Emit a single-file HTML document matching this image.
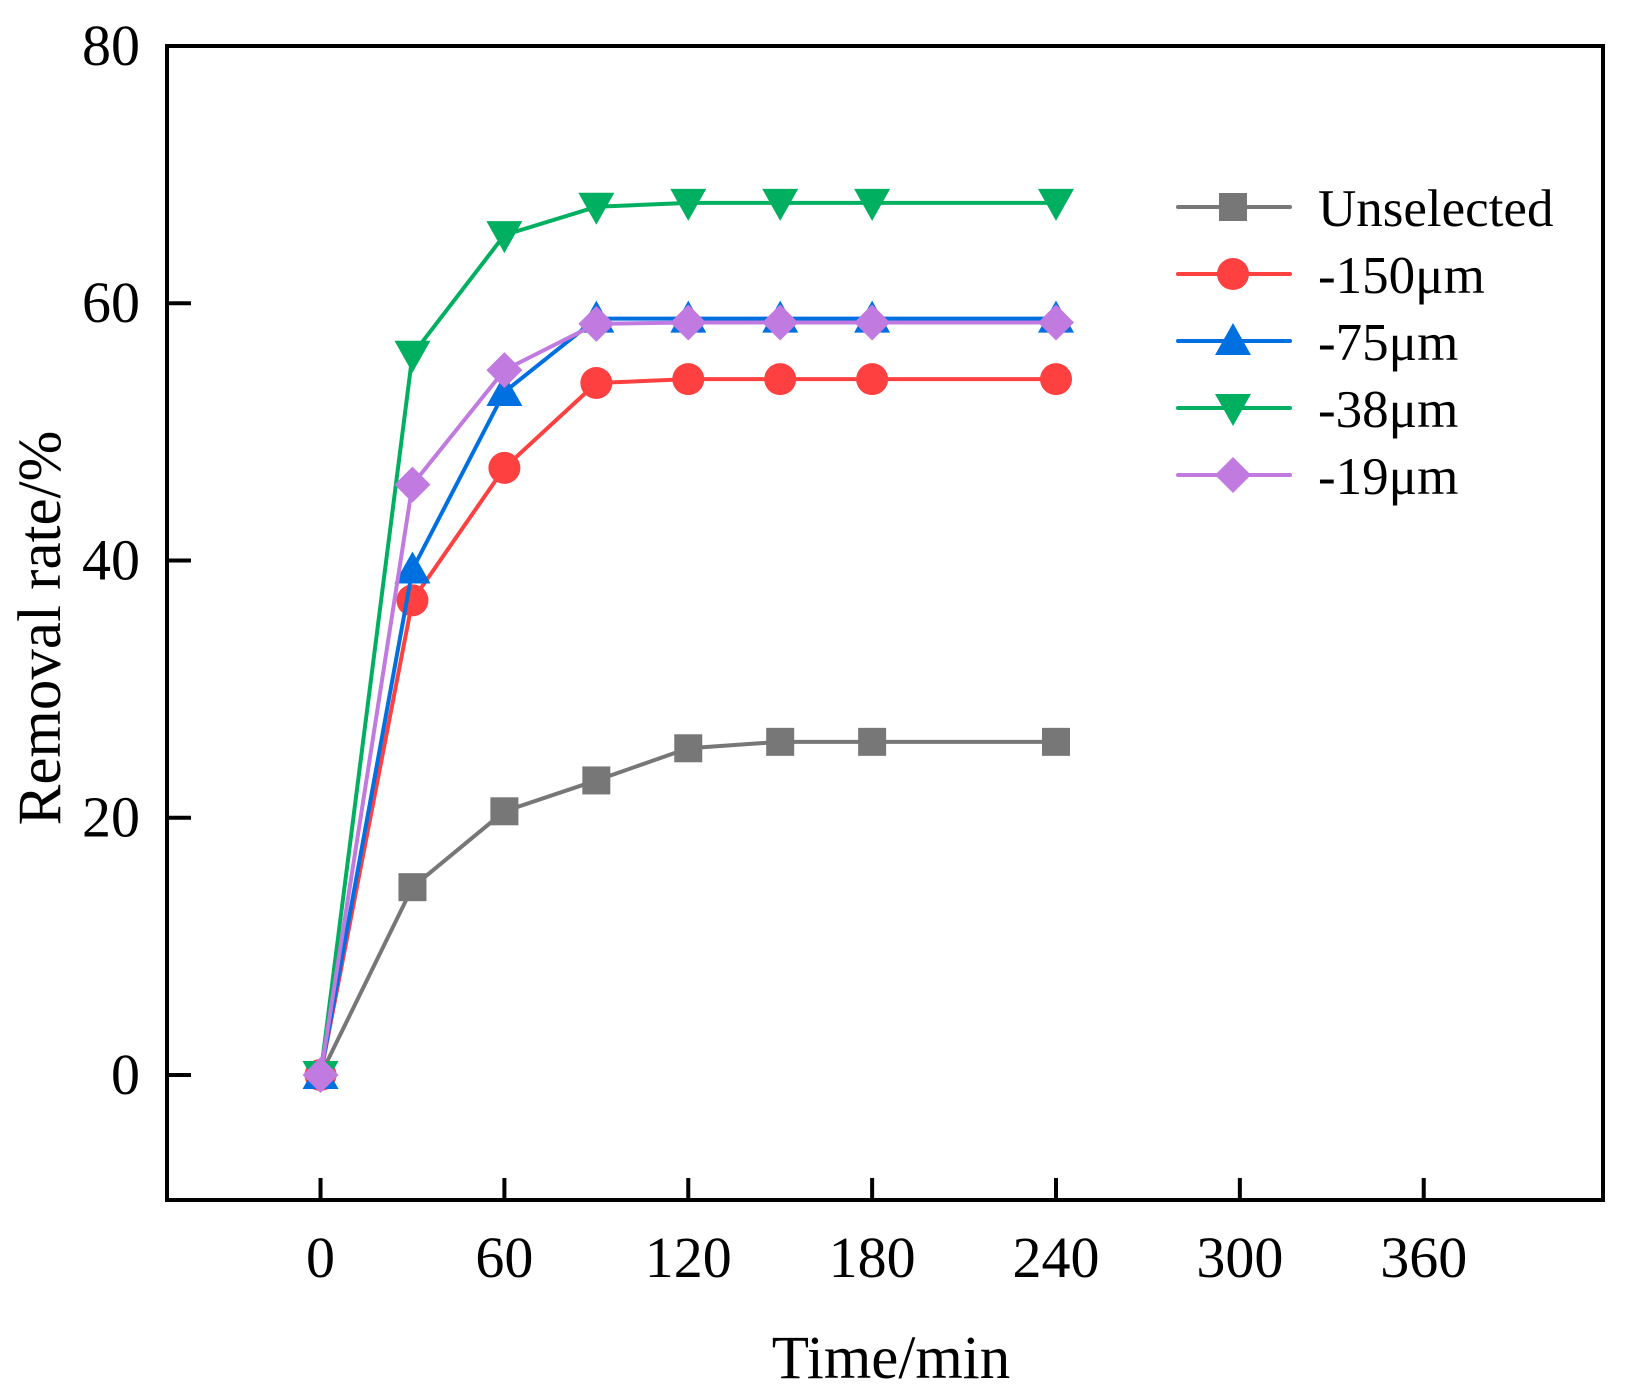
<!DOCTYPE html>
<html><head><meta charset="utf-8"><style>
html,body{margin:0;padding:0;background:#fff;}
svg{display:block;font-family:"Liberation Serif",serif;}
</style></head><body>
<svg id="chart" width="1633" height="1388" viewBox="0 0 1633 1388" xmlns="http://www.w3.org/2000/svg">
<g id="marks"></g>
<g id="axes"></g>
<g id="legend"></g>
</svg>
<script>
const times = [0, 30, 60, 90, 120, 150, 180, 240];
const unselected = [0, 14.6, 20.5, 22.9, 25.4, 25.9, 25.9, 25.9];
const um150 = [0, 36.9, 47.2, 53.8, 54.1, 54.1, 54.1, 54.1];
const um75 = [0, 39.3, 53.1, 58.8, 58.8, 58.8, 58.8, 58.8];
const um38 = [0, 56.0, 65.3, 67.5, 67.8, 67.8, 67.8, 67.8];
const um19 = [0, 45.9, 54.8, 58.4, 58.5, 58.5, 58.5, 58.5];
const seriesNames = ["Unselected", "-150μm", "-75μm", "-38μm", "-19μm"];
const xTicks = [0, 60, 120, 180, 240, 300, 360];
const yTicks = [0, 20, 40, 60, 80];

const NS = "http://www.w3.org/2000/svg";
const L = 167, R = 1603, T = 46, B = 1200;
const X0 = -50.1, X1 = 418.5, Y0 = -9.72, Y1 = 80;
function xs(v){ return L + (v - X0) / (X1 - X0) * (R - L); }
function ys(v){ return B - (v - Y0) / (Y1 - Y0) * (B - T); }
function mk(tag, attrs, parent){ const e = document.createElementNS(NS, tag); for (const k in attrs) e.setAttribute(k, attrs[k]); parent.appendChild(e); return e; }

const colors = ["#777777", "#ff4040", "#0070e0", "#00b060", "#c07ae0"];
const shapes = ["square", "circle", "up", "down", "diamond"];
const data = [unselected, um150, um75, um38, um19];

function marker(shape, cx, cy, col, parent){
  let e;
  if (shape === "square") e = mk("rect", {x: cx-14, y: cy-14, width: 28, height: 28, fill: col}, parent);
  else if (shape === "circle") e = mk("circle", {cx: cx, cy: cy, r: 16, fill: col}, parent);
  else if (shape === "up") e = mk("polygon", {points: `${cx},${cy-18} ${cx+18},${cy+14} ${cx-18},${cy+14}`, fill: col}, parent);
  else if (shape === "down") e = mk("polygon", {points: `${cx},${cy+18} ${cx+18},${cy-14} ${cx-18},${cy-14}`, fill: col}, parent);
  else e = mk("polygon", {points: `${cx},${cy-18} ${cx+18},${cy} ${cx},${cy+18} ${cx-18},${cy}`, fill: col}, parent);
  return e;
}

const marks = document.getElementById("marks");
data.forEach((vals, s) => {
  const g = mk("g", {}, marks);
  
  
  const pts = vals.map((v, i) => xs(times[i]) + "," + ys(v)).join(" ");
  const line = mk("polyline", {points: pts, fill: "none", stroke: colors[s], "stroke-width": 4, "stroke-linejoin": "round"}, g);
  
  
  vals.forEach((v, i) => {
    const m = marker(shapes[s], xs(times[i]), ys(v), colors[s], g);
    
    
  });
});

const axes = document.getElementById("axes");
const frame = mk("rect", {x: L, y: T, width: R-L, height: B-T, fill: "none", stroke: "#000", "stroke-width": 4}, axes);


xTicks.forEach(t => {
  const x = xs(t);
  const tk = mk("line", {x1: x, y1: B, x2: x, y2: B-22, stroke: "#000", "stroke-width": 4}, axes);
  
  
  const lb = mk("text", {x: x, y: 1277, "text-anchor": "middle", "font-size": 58}, axes);
  lb.textContent = t;
  
  
});
yTicks.forEach(t => {
  const y = ys(t);
  const tk = mk("line", {x1: L, y1: y, x2: L+24, y2: y, stroke: "#000", "stroke-width": 4}, axes);
  
  
  const lb = mk("text", {x: 140, y: y + 19, "text-anchor": "end", "font-size": 58}, axes);
  lb.textContent = t;
  
  
});
const xt = mk("text", {x: 891, y: 1378, "text-anchor": "middle", "font-size": 61}, axes);
xt.textContent = "Time/min";


const yt = mk("text", {x: 0, y: 0, "text-anchor": "middle", "font-size": 61, transform: "translate(60,628) rotate(-90)"}, axes);
yt.textContent = "Removal rate/%";



const legend = document.getElementById("legend");


seriesNames.forEach((n, s) => {
  const y = 207 + s * 67;
  const g = mk("g", {}, legend);
  
  
  mk("line", {x1: 1178, y1: y, x2: 1290, y2: y, stroke: colors[s], "stroke-width": 4, "stroke-linecap": "round"}, g);
  marker(shapes[s], 1233, y, colors[s], g);
  const t = mk("text", {x: 1318, y: y + 19, "font-size": 53}, g);
  t.textContent = n;
});
</script>
</body></html>
